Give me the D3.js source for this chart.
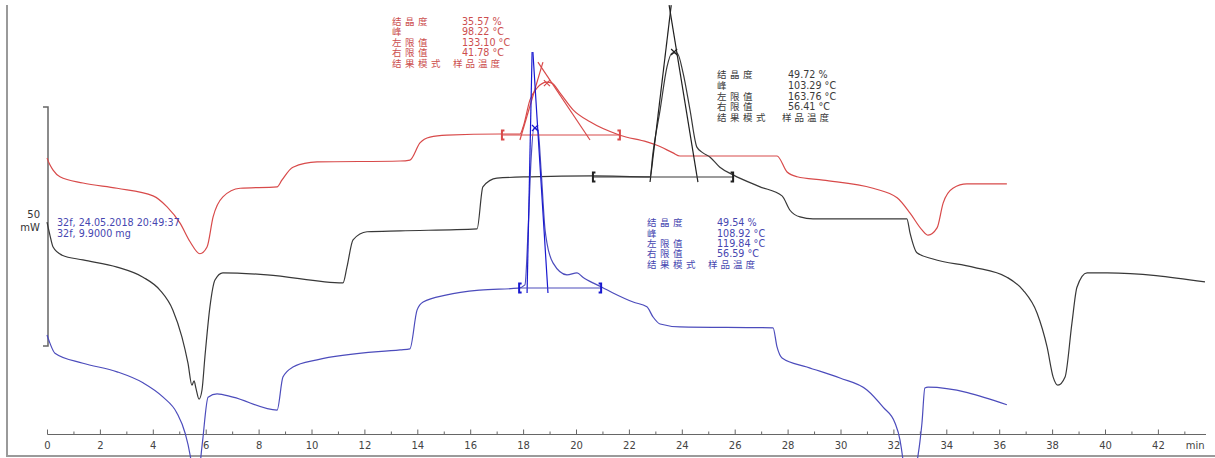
<!DOCTYPE html>
<html><head><meta charset="utf-8">
<script src="https://cdn.jsdelivr.net/npm/d3@7"></script>
<style>
html,body{margin:0;padding:0;background:#fff;}
svg{display:block;}
text{font-family:"DejaVu Sans","Noto Sans CJK SC",sans-serif;}
</style></head>
<body>
<script>
// ---------- data (time in min, heat flow in mW, arbitrary offsets per curve) ----------
const redT = [0,0.11,0.23,0.49,1.36,2.65,4.01,4.54,5.03,5.41,5.78,6.05,6.28,6.65,7.30,8.70,8.88,9.30,10.21,13.35,13.72,14.10,14.48,15.12,17.13,17.88,18.00,18.26,18.53,18.90,19.09,19.40,19.89,20.53,21.66,22.68,23.06,23.67,23.93,26.96,27.60,27.98,28.36,29.34,31.23,32.14,32.63,33.08,33.31,33.65,33.88,34.25,34.78,36.29];
const redV = [39.3,37.9,36.8,35.4,34.1,33.0,31.4,29.1,25.7,21.8,19.3,20.7,27.0,31.2,33.0,33.3,34.7,37.4,38.5,38.7,38.9,42.5,43.7,44.1,44.35,44.35,45.8,51.5,54.0,55.2,55.0,52.9,49.4,46.9,44.1,42.7,42.0,40.4,39.75,39.75,39.75,36.4,35.4,34.7,33.0,31.0,27.8,24.3,23.2,24.7,29.9,33.0,33.9,33.9];

const blackT = [0,0.11,0.23,0.57,1.36,2.65,3.63,4.27,4.76,5.10,5.33,5.48,5.56,5.63,5.75,5.86,5.97,6.16,6.35,6.65,8.32,11.19,11.34,11.57,12.10,13.35,16.26,16.48,17.01,18.26,20.64,22.80,22.91,23.18,23.44,23.63,23.82,24.05,24.31,24.57,24.80,25.07,25.44,25.94,26.96,27.79,28.09,28.47,28.96,32.51,32.63,32.89,33.50,35.01,36.29,36.90,37.43,37.81,38.04,38.22,38.49,38.75,38.94,39.32,40.08,43.78];
const blackV = [25.9,23.2,20.7,19.0,18.0,16.5,14.4,11.7,7.5,1.9,-3.6,-8.2,-7.3,-8.8,-11.1,-9.2,-2.3,8.2,13.8,15.3,14.9,13.2,16.5,22.2,23.9,24.1,24.5,33.3,35.1,35.4,35.6,35.4,40.4,49.4,58.4,61.3,61.3,57.1,49.4,41.6,40.4,39.5,37.4,35.8,33.3,31.4,28.4,27.0,26.6,26.6,23.6,19.5,18.2,16.5,14.4,11.7,6.9,-0.2,-6.5,-8.2,-6.5,4.8,12.3,15.3,15.3,13.4];

const blueT = [0,0.11,0.30,1.36,2.65,3.63,4.39,4.91,5.22,5.41,5.56,5.67,5.78,5.90,6.09,6.43,7.03,8.70,8.92,9.30,10.21,13.35,13.72,13.99,14.22,15.12,16.37,17.81,18.07,18.19,18.30,18.41,18.56,18.68,18.83,18.90,19.13,19.66,20.04,20.26,20.64,20.98,21.40,22.16,22.68,22.91,23.18,23.93,27.45,27.60,27.79,28.73,29.98,31.00,31.61,32.06,32.25,32.44,32.63,32.82,33.01,33.08,33.19,33.31,36.29];
const blueV = [2.3,0.6,-1.5,-3.6,-5.4,-7.7,-10.7,-14.0,-18.2,-22.8,-29.1,-38.5,-25.9,-19.0,-10.7,-10.0,-10.7,-13.4,-6.5,-4.4,-2.9,-0.8,-0.6,7.5,9.2,10.7,11.7,12.1,12.8,24.3,38.9,45.6,45.2,36.8,24.3,21.6,17.4,14.9,15.3,14.4,13.2,12.3,11.1,9.2,8.2,6.1,4.6,4.0,3.8,-0.2,-2.5,-4.4,-6.7,-9.2,-12.8,-16.1,-19.7,-28.0,-44.8,-28.0,-19.7,-16.1,-8.8,-8.6,-12.3];

// evaluation overlays: tangents [t0,v0,t1,v1], baseline [tStart,tEnd,v], peak [t,v]
const redTangents   = [[17.88,43.1,18.75,59.4],[18.56,59.4,20.53,43.1]];
const blackTangents = [[22.80,34.3,23.60,71.3],[23.52,71.3,24.61,34.3]];
const blueTangents  = [[18.15,11.1,18.34,61.5],[18.37,61.5,18.94,11.1]];
const redBase = [17.20,21.66,44.14], blackBase = [20.64,25.94,35.36], blueBase = [17.85,20.95,12.13];
const redPeak = [18.90,55.0], blackPeak = [23.71,61.5], bluePeak = [18.45,45.6];

const annLabels = ["结晶度","峰","左限值","右限值","结果模式"];
const redVals   = ["35.57 %","98.22 °C","133.10 °C","41.78 °C","样品温度"];
const blackVals = ["49.72 %","103.29 °C","163.76 °C","56.41 °C","样品温度"];
const blueVals  = ["49.54 %","108.92 °C","119.84 °C","56.59 °C","样品温度"];
const sampleInfo = ["32f, 24.05.2018 20:49:37","32f, 9.9000 mg"];
const scaleBar = [0,50];
const majorTicks = d3.range(0,43,2);
const minorTicks = d3.range(1,44,2);

// ---------- drawing ----------
const W = 1215, H = 458;
const svg = d3.select("body").append("svg").attr("width",W).attr("height",H);

const x = d3.scaleLinear().domain([0,43.8]).range([47,47+43.8*26.45]);
const y = d3.scaleLinear().domain([0,50]).range([346,107]);

// frame
svg.append("line").attr("x1",7).attr("x2",7).attr("y1",5).attr("y2",456).attr("stroke","#9a9a9a").attr("stroke-width",2);
svg.append("line").attr("x1",6).attr("x2",W).attr("y1",456).attr("y2",456).attr("stroke","#9a9a9a").attr("stroke-width",2);

// x axis
const axY = 434;
const gMinor = svg.append("g").attr("transform",`translate(0,${axY})`)
  .call(d3.axisBottom(x).tickValues(minorTicks).tickSize(-2.5).tickSizeOuter(0).tickFormat(""));
const gMajor = svg.append("g").attr("transform",`translate(0,${axY})`)
  .call(d3.axisBottom(x).tickValues(majorTicks).tickSize(-4.5).tickSizeOuter(0).tickPadding(8));
[gMinor,gMajor].forEach(g=>{
  g.select(".domain").attr("stroke","#666");
  g.selectAll(".tick line").attr("stroke","#666");
  g.selectAll("text").attr("fill","#444").style("font-size","10px").style("font-family","DejaVu Sans");
});
svg.append("text").attr("x",x(43.05)).attr("y",axY+8).attr("dy","0.71em").attr("fill","#444")
  .style("font-size","10px").text("min");

// scale bar
const sb = d3.path();
sb.moveTo(43,y(scaleBar[1])); sb.lineTo(48,y(scaleBar[1])); sb.lineTo(48,y(scaleBar[0])); sb.lineTo(43,y(scaleBar[0]));
svg.append("path").attr("d",sb.toString()).attr("fill","none").attr("stroke","#666").attr("stroke-width",1.5);
svg.append("text").attr("x",40).attr("y",214).attr("dy","0.35em").attr("text-anchor","end").attr("fill","#333")
  .style("font-size","10px").text(String(scaleBar[1]));
svg.append("text").attr("x",40).attr("y",227).attr("dy","0.35em").attr("text-anchor","end").attr("fill","#333")
  .style("font-size","10px").text("mW");

// curves
const line = d3.line().x(d=>x(d[0])).y(d=>y(d[1])).curve(d3.curveMonotoneX);
function curve(T,V,color,w){
  svg.append("path").datum(T.map((t,i)=>[t,V[i]])).attr("d",line)
    .attr("fill","none").attr("stroke",color).attr("stroke-width",w);
}
const cRed="#d84a4a", cBlack="#383838", cBlue="#4c4cbc", cBlueT="#1818d0";
curve(redT,redV,cRed,1.2);
curve(blackT,blackV,cBlack,1.2);
curve(blueT,blueV,cBlue,1.2);

// evaluation overlays
function overlay(tangents,base,peak,color,tcolor){
  tangents.forEach(a=>{
    svg.append("line").attr("x1",x(a[0])).attr("y1",y(a[1])).attr("x2",x(a[2])).attr("y2",y(a[3]))
      .attr("stroke",tcolor).attr("stroke-width",1.2);
  });
  const by = y(base[2]);
  svg.append("line").attr("x1",x(base[0])).attr("x2",x(base[1])).attr("y1",by).attr("y2",by)
    .attr("stroke",color).attr("stroke-width",1.2);
  [[base[0],1],[base[1],-1]].forEach(([t,s])=>{
    const bx = x(t), p = d3.path();
    p.moveTo(bx+2.5*s,by-4.5); p.lineTo(bx,by-4.5); p.lineTo(bx,by+4.5); p.lineTo(bx+2.5*s,by+4.5);
    svg.append("path").attr("d",p.toString()).attr("fill","none").attr("stroke",tcolor).attr("stroke-width",2);
  });
  const px = x(peak[0]), py = y(peak[1]), q = d3.path();
  q.moveTo(px-3,py-3); q.lineTo(px+3,py+3); q.moveTo(px+3,py-3); q.lineTo(px-3,py+3);
  svg.append("path").attr("d",q.toString()).attr("stroke",tcolor).attr("stroke-width",1.2);
}
overlay(redTangents,redBase,redPeak,cRed,cRed);
overlay(blackTangents,blackBase,blackPeak,cBlack,"#202020");
overlay(blueTangents,blueBase,bluePeak,cBlue,cBlueT);

// annotation blocks
function block(lx,vx,lastx,y0,dy,vals,color){
  annLabels.forEach((lab,i)=>{
    svg.append("text").attr("x",lx).attr("y",y0+i*dy).attr("dy","0.35em").attr("fill",color)
      .style("font-size","9.5px").style("letter-spacing","3.5px").text(lab);
    const v = vals[i];
    const isLast = i===annLabels.length-1;
    svg.append("text").attr("x",isLast?lastx:vx).attr("y",y0+i*dy).attr("dy","0.35em").attr("fill",color)
      .style("font-size",isLast?"9.5px":"9.6px").style("letter-spacing",isLast?"3px":"0px").text(v);
  });
}
block(392,462,453,21.5,10.5,redVals,"#cc4e4e");
block(717,788,782,75,10.6,blackVals,"#3a3a3a");
block(647,717,708,223,10.3,blueVals,"#4646b0");

// sample info
sampleInfo.forEach((s,i)=>{
  svg.append("text").attr("x",57).attr("y",223+i*11).attr("dy","0.35em").attr("fill","#4646b0")
    .style("font-size","9.6px").text(s);
});
</script>
</body></html>
